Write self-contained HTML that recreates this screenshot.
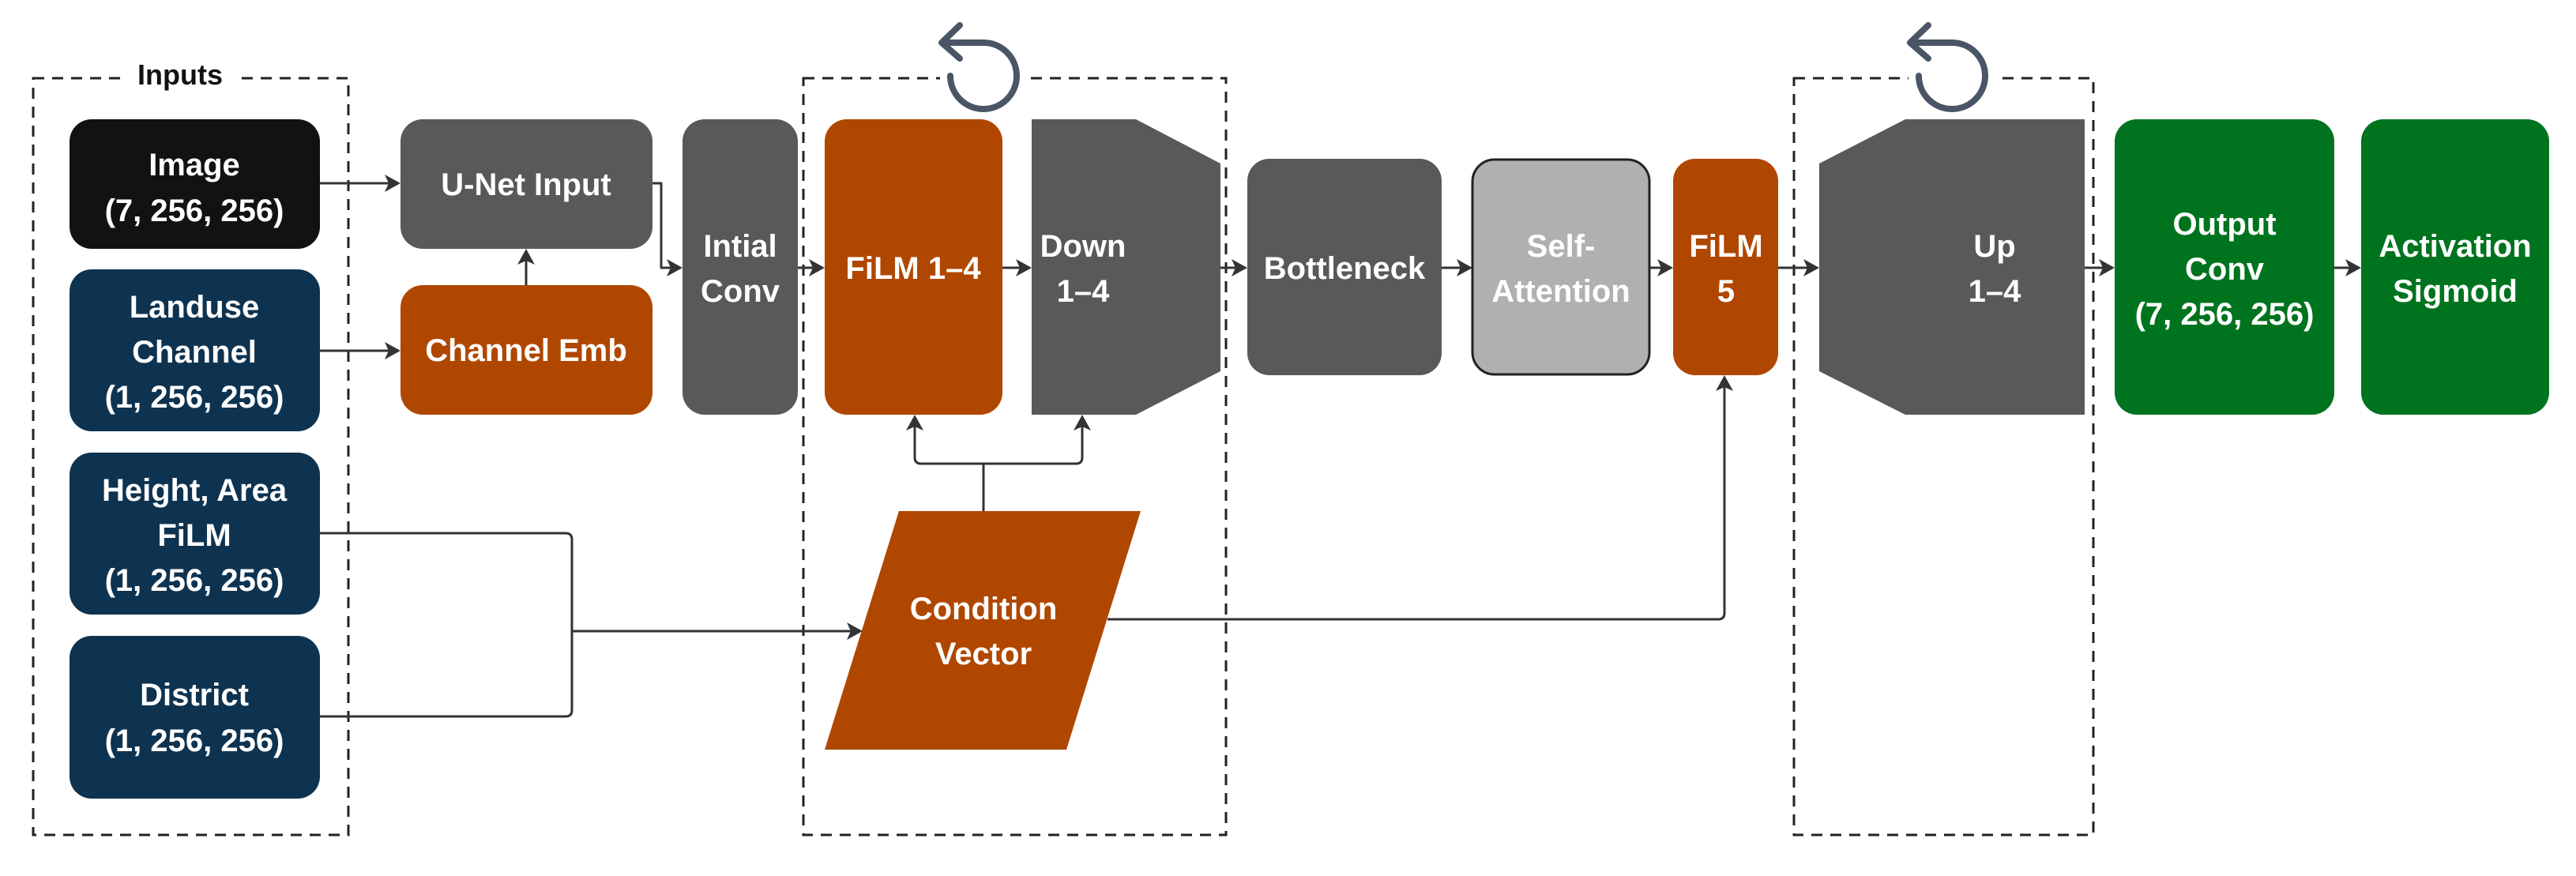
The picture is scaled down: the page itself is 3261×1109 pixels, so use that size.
<!DOCTYPE html>
<html><head><meta charset="utf-8"><style>
html,body{margin:0;padding:0;background:#fff;}
svg{display:block;}
text{font-family:"Liberation Sans",sans-serif;font-weight:bold;fill:#fff;text-anchor:middle;font-size:40px;}
</style></head><body>
<svg width="3261" height="1109" viewBox="0 0 3261 1109" xmlns="http://www.w3.org/2000/svg">
<g fill="none" stroke="#222" stroke-width="3" stroke-dasharray="14,10">
<rect x="42" y="99" width="399" height="958"/>
<rect x="1017" y="99" width="535" height="958"/>
<rect x="2271" y="99" width="379" height="958"/>
</g>
<rect x="160" y="75" width="136" height="40" fill="#fff"/>
<text x="228" y="107" style="fill:#111;font-size:36px">Inputs</text>
<rect x="1190" y="80" width="110" height="30" fill="#fff"/>
<rect x="2416" y="80" width="110" height="30" fill="#fff"/>
<g fill="none" stroke="#4a5566" stroke-width="8" stroke-linecap="round" stroke-linejoin="round">
<path d="M1203 96 A42 42 0 1 0 1245 54 L1200 54"/>
<path d="M1215 32 L1192 54 L1215 74"/>
<path d="M2429 96 A42 42 0 1 0 2471 54 L2426 54"/>
<path d="M2441 32 L2418 54 L2441 74"/>
</g>
<rect x="88" y="151" width="317" height="164" rx="28" fill="#121212"/>
<text x="246" y="222">Image</text><text x="246" y="280">(7, 256, 256)</text>
<rect x="88" y="341" width="317" height="205" rx="28" fill="#0e3350"/>
<text x="246" y="402">Landuse</text><text x="246" y="459">Channel</text><text x="246" y="516">(1, 256, 256)</text>
<rect x="88" y="573" width="317" height="205" rx="28" fill="#0e3350"/>
<text x="246" y="634">Height, Area</text><text x="246" y="691">FiLM</text><text x="246" y="748">(1, 256, 256)</text>
<rect x="88" y="805" width="317" height="206" rx="28" fill="#0e3350"/>
<text x="246" y="893">District</text><text x="246" y="951">(1, 256, 256)</text>
<rect x="507" y="151" width="319" height="164" rx="28" fill="#595959"/>
<text x="666" y="247">U-Net Input</text>
<rect x="507" y="361" width="319" height="164" rx="28" fill="#b04700"/>
<text x="666" y="457">Channel Emb</text>
<rect x="864" y="151" width="146" height="374" rx="28" fill="#595959"/>
<text x="937" y="325">Intial</text><text x="937" y="382">Conv</text>
<rect x="1044" y="151" width="225" height="374" rx="28" fill="#b04700"/>
<text x="1156" y="353">FiLM 1–4</text>
<polygon points="1306,151 1438,151 1545,207 1545,470 1438,525 1306,525" fill="#595959"/>
<text x="1371" y="325">Down</text><text x="1371" y="382">1–4</text>
<polygon points="1138,647 1444,647 1350,949 1044,949" fill="#b04700"/>
<text x="1245" y="784">Condition</text><text x="1245" y="841">Vector</text>
<rect x="1579" y="201" width="246" height="274" rx="28" fill="#595959"/>
<text x="1702" y="353">Bottleneck</text>
<rect x="1864" y="202" width="224" height="272" rx="28" fill="#b0b0b0" stroke="#222" stroke-width="3"/>
<text x="1976" y="325">Self-</text><text x="1976" y="382">Attention</text>
<rect x="2118" y="201" width="133" height="274" rx="28" fill="#b04700"/>
<text x="2185" y="325">FiLM</text><text x="2185" y="382">5</text>
<polygon points="2412,151 2639,151 2639,525 2412,525 2303,470 2303,207" fill="#595959"/>
<text x="2525" y="325">Up</text><text x="2525" y="382">1–4</text>
<rect x="2677" y="151" width="278" height="374" rx="28" fill="#00731f"/>
<text x="2816" y="297">Output</text><text x="2816" y="354">Conv</text><text x="2816" y="411">(7, 256, 256)</text>
<rect x="2989" y="151" width="238" height="374" rx="28" fill="#00731f"/>
<text x="3108" y="325">Activation</text><text x="3108" y="382">Sigmoid</text>
<g fill="none" stroke="#333" stroke-width="3" stroke-linejoin="round">
<path d="M405 232 H492"/>
<path d="M405 444 H492"/>
<path d="M666 361 V330"/>
<path d="M826 232 H837 V339 H849"/>
<path d="M1010 339 H1029"/>
<path d="M1269 339 H1291"/>
<path d="M1545 339 H1564"/>
<path d="M1825 339 H1849"/>
<path d="M2088 339 H2103"/>
<path d="M2251 339 H2288"/>
<path d="M2639 339 H2662"/>
<path d="M2955 339 H2974"/>
<path d="M405 675 H716 Q724 675 724 683 V899 Q724 907 716 907 H405"/>
<path d="M724 799 H1077"/>
<path d="M1245 647 V587"/>
<path d="M1158 540 V579 Q1158 587 1166 587 H1362 Q1370 587 1370 579 V540"/>
<path d="M1402 784 H2175 Q2183 784 2183 776 V490"/>
</g>
<g fill="#333">
<polygon points="507,232 487,221 492,232 487,243"/>
<polygon points="507,444 487,433 492,444 487,455"/>
<polygon points="666,315 655,335 666,330 677,335"/>
<polygon points="864,339 844,328 849,339 844,350"/>
<polygon points="1044,339 1024,328 1029,339 1024,350"/>
<polygon points="1306,339 1286,328 1291,339 1286,350"/>
<polygon points="1579,339 1559,328 1564,339 1559,350"/>
<polygon points="1864,339 1844,328 1849,339 1844,350"/>
<polygon points="2118,339 2098,328 2103,339 2098,350"/>
<polygon points="2303,339 2283,328 2288,339 2283,350"/>
<polygon points="2677,339 2657,328 2662,339 2657,350"/>
<polygon points="2989,339 2969,328 2974,339 2969,350"/>
<polygon points="1092,799 1072,788 1077,799 1072,810"/>
<polygon points="1158,525 1147,545 1158,540 1169,545"/>
<polygon points="1370,525 1359,545 1370,540 1381,545"/>
<polygon points="2183,475 2172,495 2183,490 2194,495"/>
</g>
</svg>
</body></html>
